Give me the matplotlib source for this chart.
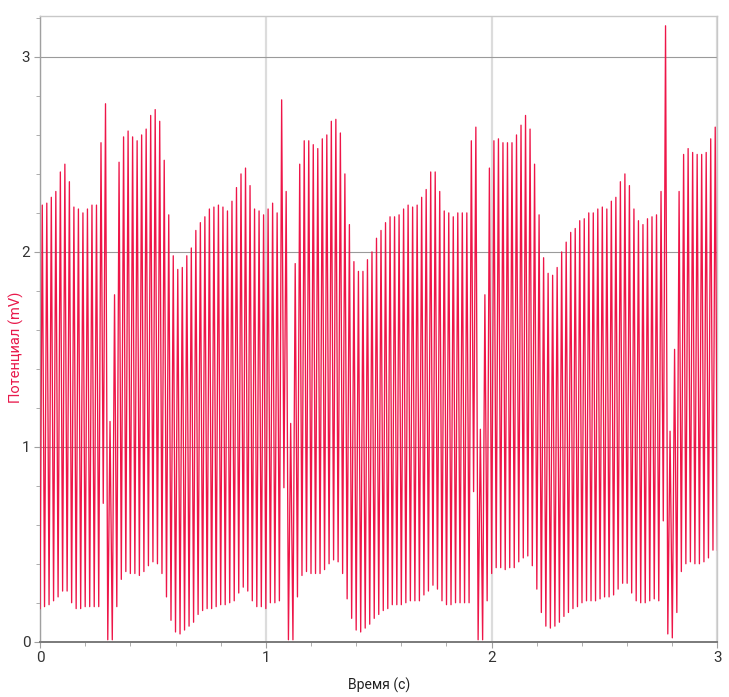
import numpy as np
import matplotlib
matplotlib.use("Agg")
import matplotlib.pyplot as plt
from matplotlib.ticker import MultipleLocator

# sampling step of the recording, s
dt = 0.01

# local minima (even samples, t = 0.00, 0.02, ... 3.00), mV
troughs = [
    0.17, 0.18, 0.19, 0.21, 0.23, 0.26, 0.26, 0.20, 0.17, 0.17,
    0.18, 0.18, 0.18, 0.18, 0.71, 0.01, 0.01, 0.18, 0.32, 0.36,
    0.35, 0.35, 0.34, 0.36, 0.39, 0.41, 0.40, 0.35, 0.23, 0.11,
    0.05, 0.04, 0.06, 0.08, 0.10, 0.14, 0.16, 0.17,
    0.17, 0.18, 0.19, 0.19, 0.20, 0.21, 0.25, 0.28, 0.26, 0.21,
    0.18, 0.18, 0.17, 0.20, 0.20, 0.21, 0.79, 0.01, 0.01, 0.23,
    0.34, 0.36, 0.35, 0.35, 0.35, 0.37, 0.40, 0.42, 0.41, 0.35,
    0.22, 0.12, 0.06, 0.05, 0.07, 0.09, 0.12, 0.14,
    0.16, 0.17, 0.19, 0.19, 0.19, 0.20, 0.21, 0.21, 0.21, 0.24,
    0.26, 0.29, 0.27, 0.21, 0.19, 0.19, 0.20, 0.20, 0.20, 0.20,
    0.77, 0.01, 0.01, 0.21, 0.35, 0.38, 0.38, 0.37, 0.38, 0.38,
    0.41, 0.43, 0.44, 0.39, 0.27, 0.15, 0.08,
    0.07, 0.08, 0.10, 0.13, 0.15, 0.17, 0.18, 0.20, 0.21, 0.21,
    0.21, 0.22, 0.23, 0.23, 0.24, 0.27, 0.30, 0.30, 0.25, 0.21,
    0.20, 0.20, 0.21, 0.22, 0.21, 0.62, 0.04, 0.02, 0.15, 0.36,
    0.40, 0.41, 0.40, 0.40, 0.41, 0.43, 0.47, 0.47,
]

# local maxima (odd samples, t = 0.01, 0.03, ... 2.99), mV
peaks = [
    2.24, 2.25, 2.28, 2.31, 2.41, 2.45, 2.36, 2.23, 2.22, 2.20,
    2.22, 2.24, 2.24, 2.56, 2.76, 1.13, 1.78, 2.46, 2.59, 2.62,
    2.59, 2.57, 2.60, 2.63, 2.70, 2.73, 2.67, 2.47, 2.19, 1.98,
    1.91, 1.92, 1.98, 2.02, 2.11, 2.15, 2.18, 2.22,
    2.23, 2.24, 2.23, 2.21, 2.26, 2.33, 2.40, 2.43, 2.34, 2.22,
    2.21, 2.19, 2.22, 2.25, 2.20, 2.78, 2.31, 1.12, 1.94, 2.45,
    2.57, 2.57, 2.55, 2.53, 2.58, 2.60, 2.67, 2.68, 2.61, 2.40,
    2.14, 1.95, 1.90, 1.90, 1.96, 2.00, 2.07,
    2.11, 2.15, 2.18, 2.18, 2.19, 2.22, 2.24, 2.23, 2.24, 2.28,
    2.32, 2.41, 2.41, 2.31, 2.21, 2.20, 2.18, 2.20, 2.20, 2.20,
    2.57, 2.64, 1.09, 1.78, 2.43, 2.57, 2.58, 2.56, 2.56, 2.56,
    2.60, 2.65, 2.70, 2.63, 2.45, 2.19, 1.97, 1.89,
    1.88, 1.92, 2.00, 2.05, 2.10, 2.12, 2.16, 2.17, 2.20, 2.20,
    2.22, 2.23, 2.22, 2.26, 2.28, 2.36, 2.40, 2.34, 2.22, 2.16,
    2.14, 2.17, 2.18, 2.19, 2.31, 3.16, 1.08, 1.50, 2.31, 2.50,
    2.53, 2.51, 2.50, 2.50, 2.51, 2.58, 2.64,
]

x_ticks = [0, 1, 2, 3]
y_ticks = [0, 1, 2, 3]

# interleave minima and maxima into the sampled signal
n = len(troughs) + len(peaks)
signal = np.empty(n)
signal[0::2] = troughs
signal[1::2] = peaks
t = np.arange(n) * dt

font = ["Liberation Sans Narrow", "Roboto", "DejaVu Sans"]

fig = plt.figure(figsize=(7.29, 6.97), dpi=100)
ax = fig.add_axes([0.0549, 0.0793, 0.9293, 0.8977])

ax.plot(t, signal, color="#ee1548", lw=0.95, zorder=3)

ax.set_xlim(0, 3)
ax.set_ylim(0, 3.21)
ax.set_xticks(x_ticks)
ax.set_yticks(y_ticks)
ax.xaxis.set_minor_locator(MultipleLocator(0.2))
ax.yaxis.set_minor_locator(MultipleLocator(0.2))

ax.grid(axis="y", which="major", color="#9a9a9a", lw=0.8, zorder=1)
ax.grid(axis="x", which="major", color="#dcdcdc", lw=1.6, zorder=1)

for side in ("top", "right"):
    ax.spines[side].set_color("#c8c8c8")
    ax.spines[side].set_linewidth(1.0)
ax.spines["left"].set_color("#a0a0a0")
ax.spines["left"].set_linewidth(1.0)
ax.spines["bottom"].set_color("#7a7a7a")
ax.spines["bottom"].set_linewidth(1.4)

ax.tick_params(which="major", length=4, color="#a0a0a0", pad=3)
ax.tick_params(which="minor", length=3, color="#a0a0a0")
for lab in ax.get_xticklabels() + ax.get_yticklabels():
    lab.set_family(font)
    lab.set_fontsize(11)
    lab.set_color("#333333")

ax.set_xlabel("Время (c)", family=font, fontsize=10, color="#222222", labelpad=9)
ax.set_ylabel("Потенциал (mV)", family=font, fontsize=10.5, color="#e8194b")
ax.yaxis.set_label_coords(-0.024, 0.47)

fig.savefig("out.png", dpi=100, facecolor="white")
